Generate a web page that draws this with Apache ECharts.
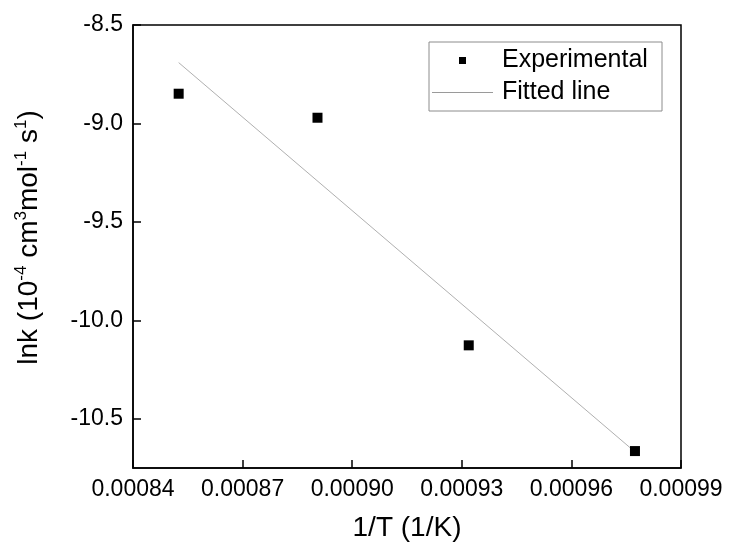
<!DOCTYPE html>
<html>
<head>
<meta charset="utf-8">
<script src="https://cdn.jsdelivr.net/npm/echarts@6/dist/echarts.min.js"></script>
<style>
  html, body { margin: 0; padding: 0; background: #fff; }
  #chart { width: 731px; height: 550px; }
</style>
</head>
<body>
<div id="chart"></div>
<script>
// Arrhenius plot: measured rate constants and their linear fit
const invT = [0.0008525, 0.0008905, 0.0009319, 0.0009774];
const lnk = [-8.849, -8.971, -10.127, -10.664];

// end points of the fitted line
const fitInvT = [0.0008525, 0.0009774];
const fitLnk = [-8.691, -10.668];

// tick positions
const xTicks = [0.00084, 0.00087, 0.00090, 0.00093, 0.00096, 0.00099];
const yTicks = [-10.5, -10.0, -9.5, -9.0, -8.5];

const FONT = '"Liberation Sans", Arial, sans-serif';

const chart = echarts.init(document.getElementById('chart'), null, { renderer: 'canvas' });

chart.setOption({
  animation: false,
  backgroundColor: '#ffffff',
  textStyle: { fontFamily: FONT, color: '#000' },
  grid: {
    left: 133, right: 50, top: 25, bottom: 82,
    show: true, borderColor: '#000', borderWidth: 1.5,
    containLabel: false, outerBoundsMode: 'none'
  },
  legend: {
    orient: 'vertical',
    left: 429, top: 42,
    padding: [6, 4, 6, 3],
    itemGap: 7,
    itemWidth: 65, itemHeight: 8,
    borderColor: '#8c8c8c', borderWidth: 1,
    backgroundColor: '#fff',
    textStyle: { fontFamily: FONT, fontSize: 25, color: '#000', width: 156, lineHeight: 25 },
    data: [
      { name: 'Experimental', icon: 'path://M0,0M65,8M27,0.5h7v7h-7z' },
      { name: 'Fitted line', icon: 'path://M0,0M65,8M0,3.5h61v1h-61z' }
    ]
  },
  xAxis: {
    type: 'value',
    min: xTicks[0], max: xTicks[xTicks.length - 1], interval: 0.00003,
    name: '1/T (1/K)',
    nameLocation: 'middle', nameGap: 46,
    nameTextStyle: { fontFamily: FONT, fontSize: 28, color: '#000' },
    axisLine: { show: true, onZero: false, lineStyle: { color: '#000', width: 1.5 } },
    axisTick: { show: true, inside: true, length: 8, lineStyle: { color: '#000', width: 1.5 }, customValues: xTicks },
    axisLabel: {
      fontFamily: FONT, fontSize: 23, color: '#000', margin: 10,
      customValues: xTicks,
      formatter: v => v.toFixed(5)
    },
    splitLine: { show: false }
  },
  yAxis: {
    type: 'value',
    min: -10.75, max: -8.5,
    name: '{m|lnk (10}{s|-4}{m| cm}{s|3}{m|mol}{s|-1}{m| s}{s|1}{m|)}',
    nameLocation: 'middle', nameGap: 88, nameRotate: 90,
    nameTextStyle: {
      fontFamily: FONT, color: '#000',
      padding: [0, 0, 0, 18],
      rich: {
        m: { fontFamily: FONT, fontSize: 28, lineHeight: 32, color: '#000' },
        s: { fontFamily: FONT, fontSize: 17, lineHeight: 20, verticalAlign: 'top', color: '#000' }
      }
    },
    axisLine: { show: true, onZero: false, lineStyle: { color: '#000', width: 1.5 } },
    axisTick: { show: true, inside: true, length: 8, lineStyle: { color: '#000', width: 1.5 }, customValues: yTicks },
    axisLabel: {
      fontFamily: FONT, fontSize: 23, color: '#000', margin: 10,
      customValues: yTicks,
      formatter: v => v.toFixed(1)
    },
    splitLine: { show: false }
  },
  series: [
    {
      name: 'Experimental',
      type: 'scatter',
      symbol: 'rect',
      symbolSize: 10,
      itemStyle: { color: '#000', opacity: 1 },
      data: invT.map((x, i) => [x, lnk[i]]),
      z: 3
    },
    {
      name: 'Fitted line',
      type: 'line',
      symbol: 'none',
      lineStyle: { color: '#b0b0b0', width: 1 },
      itemStyle: { color: '#9a9a9a' },
      data: fitInvT.map((x, i) => [x, fitLnk[i]]),
      z: 2
    }
  ]
});
</script>
</body>
</html>
